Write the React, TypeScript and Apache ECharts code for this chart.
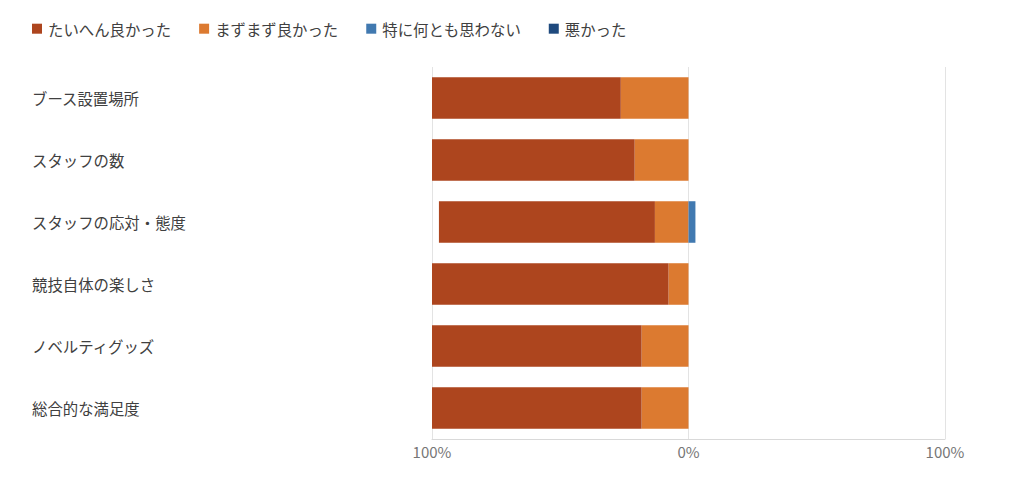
import React, { useEffect, useRef } from "react";
import * as echarts from "echarts";

const categories = [
  "ブース設置場所",
  "スタッフの数",
  "スタッフの応対・態度",
  "競技自体の楽しさ",
  "ノベルティグッズ",
  "総合的な満足度",
];
const veryGood = [73.6, 79.0, 84.2, 92.2, 81.7, 81.7];
const fairlyGood = [26.4, 21.0, 13.1, 7.8, 18.3, 18.3];
const neutral = [0, 0, 2.7, 0, 0, 0];
const bad = [0, 0, 0, 0, 0, 0];
const legendNames = ["たいへん良かった", "まずまず良かった", "特に何とも思わない", "悪かった"];
const xTicks = [-100, 0, 100];

const FONT = "'Noto Sans CJK JP', 'Noto Sans', sans-serif";

export default function App() {
  const ref = useRef<HTMLDivElement>(null);
  useEffect(() => {
    if (!ref.current) return;
    const chart = echarts.init(ref.current, undefined, { renderer: "svg" });
    chart.setOption({
      animation: false,
      textStyle: { fontFamily: FONT },
      legend: {
        data: legendNames,
        left: 32,
        top: 21,
        padding: 0,
        itemWidth: 10,
        itemHeight: 10,
        itemGap: 28,
        icon: "rect",
        textStyle: { fontSize: 15.4, color: "#404040", fontFamily: FONT, padding: [0, 0, 0, 1] },
      },
      grid: { left: 432, right: 79, top: 67, bottom: 52, containLabel: false },
      xAxis: {
        type: "value",
        min: xTicks[0],
        max: xTicks[xTicks.length - 1],
        interval: 100,
        axisLine: { show: true, lineStyle: { color: "#d9d9d9" } },
        axisTick: { show: false },
        splitLine: { show: true, lineStyle: { color: "#e3e3e3" } },
        axisLabel: {
          color: "#767676",
          fontSize: 15,
          fontFamily: FONT,
          margin: 5,
          formatter: (v: number) => Math.abs(v) + "%",
        },
      },
      yAxis: {
        type: "category",
        data: categories,
        inverse: true,
        axisLine: { show: false },
        axisTick: { show: false },
        axisLabel: {
          margin: 400,
          align: "left",
          color: "#404040",
          fontSize: 15.4,
          fontFamily: FONT,
        },
      },
      series: [
        {
          name: legendNames[1],
          type: "bar",
          stack: "total",
          barCategoryGap: "33%",
          data: fairlyGood.map((v) => -v),
          itemStyle: { color: "#DC7A30" },
        },
        {
          name: legendNames[0],
          type: "bar",
          stack: "total",
          barCategoryGap: "33%",
          data: veryGood.map((v) => -v),
          itemStyle: { color: "#AD451E" },
        },
        {
          name: legendNames[2],
          type: "bar",
          stack: "total",
          barCategoryGap: "33%",
          data: neutral,
          itemStyle: { color: "#4179B0" },
        },
        {
          name: legendNames[3],
          type: "bar",
          stack: "total",
          barCategoryGap: "33%",
          data: bad,
          itemStyle: { color: "#1F4A7E" },
        },
      ],
    });
    return () => chart.dispose();
  }, []);
  return <div ref={ref} style={{ width: 1024, height: 491, position: "absolute", left: 0, top: 0 }} />;
}
